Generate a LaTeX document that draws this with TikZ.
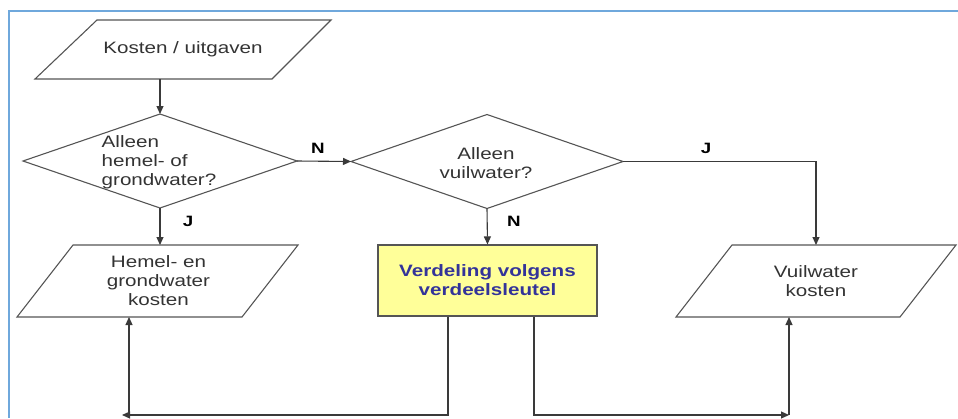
\documentclass[tikz,border=0pt]{standalone}
\usepackage{fontspec}
\setmainfont[FakeStretch=1.25]{Liberation Sans}
\usetikzlibrary{arrows.meta,shapes.geometric}
\definecolor{linegray}{HTML}{3A3A3A}
\definecolor{shapegray}{HTML}{555555}
\definecolor{textgray}{HTML}{333333}
\definecolor{boxyellow}{HTML}{FFFF99}
\definecolor{boxblue}{HTML}{333399}
\definecolor{frameblue}{HTML}{6FA8DC}
\begin{document}
\begin{tikzpicture}[x=1pt,y=-1pt,
  line/.style={draw=linegray, line width=1.1pt},
  arr/.style={line, -{Triangle[length=8pt,width=7pt]}},
  shapeline/.style={draw=shapegray, line width=1.1pt, line join=miter},
  txt/.style={font=\fontsize{16.5}{19}\selectfont, text=textgray, align=center, inner sep=0pt},
  lbl/.style={font=\fontsize{15}{18}\selectfont\bfseries, text=black, inner sep=0pt},
  dia/.style={diamond, shapeline, minimum width=274pt, minimum height=94pt, inner sep=0pt, outer sep=0pt}]
\useasboundingbox (0,0) rectangle (958,418);
% frame
\draw[frameblue, line width=1.8pt] (9,418) -- (9,11) -- (958,11);

% Kosten / uitgaven
\draw[shapeline] (97,20) -- (331,20) -- (272,79) -- (35,79) -- cycle;
\node[txt] (kosten) at (183,49) {Kosten / uitgaven};
\coordinate (kosten-s) at (160,79);

% diamond 1
\node[dia] (d1) at (160,161) {};
\node[txt, align=left] (d1t) at (159,162) {Alleen\\hemel- of\\grondwater?};

% diamond 2
\node[dia, minimum width=272pt] (d2) at (487,161.5) {};
\node[txt] (d2t) at (486,163) {Alleen\\vuilwater?};

% Hemel- en grondwater kosten
\draw[shapeline] (73,245) -- (298,245) -- (242,317) -- (17,317) -- cycle;
\node[txt] (hemel) at (158.5,281) {Hemel- en\\grondwater\\kosten};
\coordinate (hemel-n) at (160,245);
\coordinate (hemel-s) at (129,317);

% Vuilwater kosten
\draw[shapeline] (732,245) -- (956,245) -- (900,317) -- (676,317) -- cycle;
\node[txt] (vuil) at (816,281) {Vuilwater\\kosten};
\coordinate (vuil-n) at (816,245);
\coordinate (vuil-s) at (789,317);

% Verdeling box
\node[draw=shapegray, line width=1.1pt, fill=boxyellow, minimum width=219pt, minimum height=71pt, inner sep=0pt,
      font=\fontsize{16.5}{19}\selectfont\bfseries, text=boxblue, align=center] (verd) at (487.5,280.5)
      {Verdeling volgens\\verdeelsleutel};

% connectors
\draw[arr] (kosten-s) -- (d1.north);
\draw[arr] (d1.east) -- (d2.west);
\draw[arr] (d1.south) -- (hemel-n);
\draw[arr] (d2.south) -- (verd.north);
\draw[arr] (d2.east) -| (vuil-n);

\coordinate (blc) at (122,415);
\coordinate (bl) at (129,415);
\coordinate (brc) at (789,415);
\coordinate (br) at (789,415);
\draw[arr] ([xshift=-39.5pt]verd.south) |- (blc);
\draw[arr] (bl) -- (hemel-s);
\draw[arr] ([xshift=46.5pt]verd.south) |- (brc);
\draw[arr] (br) -- (vuil-s);

% labels
\node[lbl] (n1) at (318,148) {N};
\node[lbl] (j1) at (706,148) {J};
\node[lbl] (n2) at (514,221) {N};
\node[lbl] (j2) at (188,221) {J};
\end{tikzpicture}
\end{document}
